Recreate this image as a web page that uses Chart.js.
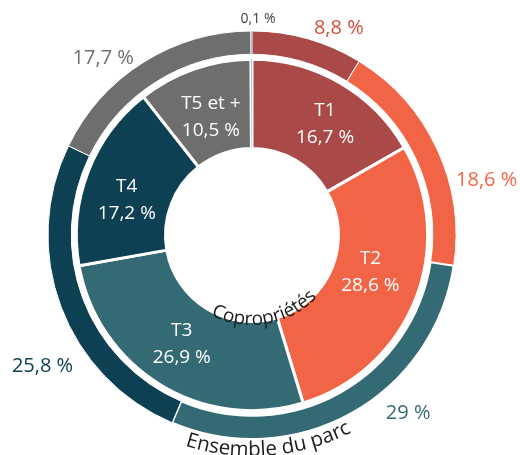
<!DOCTYPE html>
<html>
<head>
<meta charset="utf-8">
<script src="https://cdn.jsdelivr.net/npm/chart.js@4.4.1/dist/chart.umd.min.js"></script>
<style>
  html, body { margin: 0; padding: 0; background: #fff; }
  #wrap { width: 520px; height: 455px; }
</style>
</head>
<body>
<div id="wrap"><canvas id="chart" width="520" height="455"></canvas></div>
<script>
const categories = ["T1", "T2", "T3", "T4", "T5 et +", "Non renseigné"];
const ensembleValues = [8.8, 18.6, 29, 25.8, 17.7, 0.1];
const coproValues = [16.7, 28.6, 26.9, 17.2, 10.5, 0.1];
const ringNames = ["Ensemble du parc", "Copropriétés"];

const sliceColors = ["#a94a49", "#f26446", "#346a73", "#0d4052", "#6e6e6e", "#aac4de"];
const outerLabelColors = ["#d64d3a", "#f26446", "#346a73", "#0d4052", "#6e6e6e", "#404040"];

// label placement: [degrees clockwise from top, distance from centre]
const outerLabelPos = [[22.8, 224], [76.8, 241], [138.8, 237], [238, 247], [319.9, 231], [1.6, 216]];
const innerLabelPos = [[33.3, 133], [107.4, 124], [213, 129], [285.6, 130], [340.8, 125]];

const FONT = "'Open Sans', 'Noto Sans', sans-serif";

function fmt(v) {
  return String(v).replace(".", ",") + " %";
}

function polar(cx, cy, deg, r) {
  const a = (deg - 90) * Math.PI / 180;
  return [cx + r * Math.cos(a), cy + r * Math.sin(a)];
}

// text along the bottom of a circle, letters upright
function drawArcText(ctx, text, cx, cy, r, centerDeg, font, color) {
  ctx.save();
  ctx.font = font;
  ctx.fillStyle = color;
  ctx.textAlign = "center";
  ctx.textBaseline = "alphabetic";
  const total = ctx.measureText(text).width;
  let phi = centerDeg * Math.PI / 180 + total / (2 * r);
  for (const ch of text) {
    const w = ctx.measureText(ch).width;
    const a = phi - w / (2 * r);
    ctx.save();
    ctx.translate(cx + r * Math.cos(a), cy + r * Math.sin(a));
    ctx.rotate(a - Math.PI / 2);
    ctx.fillText(ch, 0, 0);
    ctx.restore();
    phi -= w / r;
  }
  ctx.restore();
}

const labelsPlugin = {
  id: "ringLabels",
  afterDatasetsDraw(chart) {
    const ctx = chart.ctx;
    const arc = chart.getDatasetMeta(0).data[0];
    const cx = arc.x, cy = arc.y;
    ctx.save();
    ctx.textAlign = "center";
    ctx.textBaseline = "middle";

    // outer ring values
    ensembleValues.forEach((v, i) => {
      const [x, y] = polar(cx, cy, outerLabelPos[i][0], outerLabelPos[i][1]);
      ctx.font = (i === 5 ? "14px " : "20px ") + FONT;
      ctx.fillStyle = outerLabelColors[i];
      ctx.fillText(fmt(v), x, y);
    });

    // inner ring category + value
    ctx.fillStyle = "#ffffff";
    ctx.font = "19px " + FONT;
    innerLabelPos.forEach((p, i) => {
      const [x, y] = polar(cx, cy, p[0], p[1]);
      ctx.fillText(categories[i], x, y - 13);
      ctx.fillText(fmt(coproValues[i]), x, y + 14);
    });
    ctx.restore();

    drawArcText(ctx, ringNames[1], cx, cy, 90, 80.5, "19px " + FONT, "#1c1c1c");
    drawArcText(ctx, ringNames[0], cx, cy, 221, 85.4, "20.5px " + FONT, "#1c1c1c");
  }
};

new Chart(document.getElementById("chart"), {
  type: "doughnut",
  data: {
    labels: categories,
    datasets: [
      {
        label: ringNames[0],
        data: ensembleValues,
        backgroundColor: sliceColors,
        borderColor: "#ffffff",
        borderWidth: [1, 1, 2, 1, 1, 0],
        weight: 23
      },
      {
        label: "",
        data: [1],
        backgroundColor: "rgba(0,0,0,0)",
        borderWidth: 0,
        weight: 5
      },
      {
        label: ringNames[1],
        data: coproValues,
        backgroundColor: sliceColors,
        borderColor: "#ffffff",
        borderWidth: [3, 3, 3, 3, 3, 0],
        weight: 88
      }
    ]
  },
  options: {
    responsive: false,
    animation: false,
    radius: 204,
    cutout: "42.4%",
    layout: { padding: { left: 0, right: 16, top: 15, bottom: 0 } },
    plugins: {
      legend: { display: false },
      tooltip: { enabled: false }
    }
  },
  plugins: [labelsPlugin]
});
</script>
</body>
</html>
